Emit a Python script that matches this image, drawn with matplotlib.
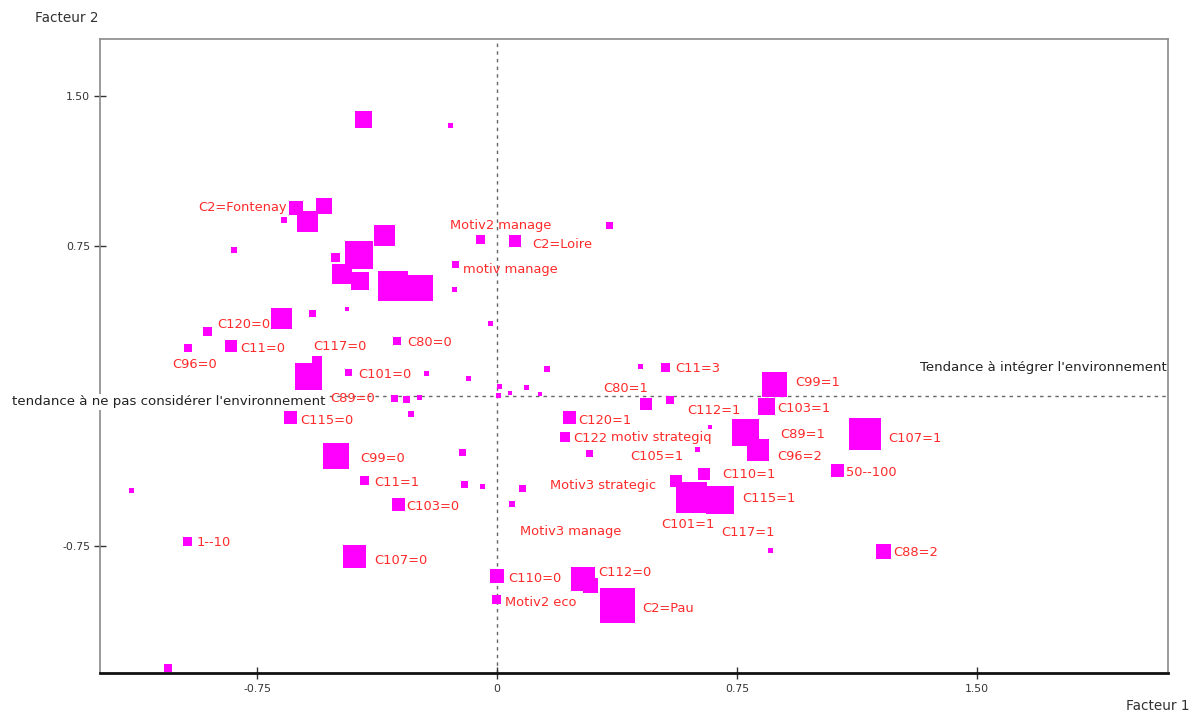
import matplotlib
matplotlib.use('Agg')
import matplotlib.pyplot as plt
import matplotlib.transforms as mtransforms
import numpy as np

# ---------------- data ----------------
facteur1 = [-0.419, -0.144, -0.628, -0.594, -0.541, -0.666, -0.822, -0.353, -0.431, -0.506,
            -0.484, -0.428, -0.325, -0.241, -0.053, -0.131, -0.134, 0.056, 0.350, -0.022,
            0.528, 0.447, 0.156, -0.088, 0.091, 0.009, 0.041, 0.134, 0.003, -0.675,
            -0.906, -0.578, -0.469, -0.831, -0.966, -0.588, -0.563, -0.313, -0.463, -0.219,
            -0.319, -0.284, -0.241, -0.269, -0.647, -0.503, -0.109, -0.413, -0.103, -0.044,
            -1.141, -0.309, -0.966, -0.447, -1.028, 0.466, 0.541, 0.866, 0.841, 0.666,
            0.225, 0.213, 0.628, 0.288, 0.778, 0.816, 1.150, 1.063, 0.647, 0.559,
            0.609, 0.697, 0.856, 0.081, 0.047, 0.000, -0.003, 0.269, 0.291, 0.375,
            1.209]
facteur2 = [1.385, 1.355, 0.940, 0.875, 0.950, 0.880, 0.730, 0.805, 0.705, 0.695,
            0.610, 0.575, 0.550, 0.540, 0.785, 0.660, 0.535, 0.775, 0.855, 0.365,
            0.145, 0.150, 0.135, 0.090, 0.045, 0.050, 0.015, 0.010, 0.005, 0.390,
            0.325, 0.415, 0.435, 0.250, 0.240, 0.100, 0.175, 0.275, 0.120, 0.115,
            -0.010, -0.015, -0.005, -0.090, -0.105, -0.300, -0.280, -0.420, -0.440, -0.450,
            -0.470, -0.540, -0.725, -0.800, -1.360, -0.040, -0.020, 0.060, -0.050, -0.155,
            -0.105, -0.205, -0.265, -0.285, -0.180, -0.270, -0.190, -0.370, -0.390, -0.425,
            -0.505, -0.520, -0.770, -0.460, -0.540, -0.900, -1.015, -0.915, -0.945, -1.045,
            -0.775]
poids = [17, 5, 14, 21, 16, 6, 6, 21, 28, 9,
         20, 18, 30, 26, 9, 7, 5, 12, 7, 5,
         9, 5, 6, 5, 5, 5, 4, 4, 5, 21,
         9, 7, 4, 12, 8, 27, 10, 8, 7, 5,
         7, 7, 5, 6, 13, 26, 7, 9, 7, 5,
         5, 13, 9, 23, 8, 12, 8, 25, 17, 4,
         13, 10, 5, 7, 27, 22, 32, 13, 12, 12,
         31, 28, 5, 7, 6, 14, 9, 24, 15, 35,
         15]
modalites = ['', '', 'C2=Fontenay', '', '', '', '', '', '', '',
             '', '', '', '', 'Motiv2 manage', 'motiv manage', '', 'C2=Loire', '', '',
             'C11=3', '', '', '', '', '', '', '', '', '',
             'C120=0', '', '', 'C11=0', 'C96=0', 'C117=0', '', 'C80=0', 'C101=0', '',
             'C89=0', '', '', '', 'C115=0', 'C99=0', '', 'C11=1', '', '',
             '', 'C103=0', '1--10', 'C107=0', '', 'C80=1', '', 'C99=1', 'C103=1', 'C112=1',
             'C120=1', 'C122', 'motiv strategiq', 'C105=1', 'C89=1', 'C96=2', 'C107=1', '50--100', 'C110=1', '',
             'C101=1', 'C115=1', 'C117=1', 'Motiv3 strategic', 'Motiv3 manage', 'C110=0', 'Motiv2 eco', 'C112=0', '', 'C2=Pau',
             'C88=2']

# label placement (pixel offsets from the square, alignment)
decalages = {
    'C2=Fontenay': (-9, -1, 'right'), 'Motiv2 manage': (-30, -14, 'left'),
    'motiv manage': (8, 5, 'left'), 'C2=Loire': (17, 3, 'left'), 'C11=3': (9, 1, 'left'),
    'C120=0': (10, -6, 'left'), 'C11=0': (9, 3, 'left'), 'C96=0': (-16, 17, 'left'),
    'C117=0': (4, -29, 'left'), 'C80=0': (10, 1, 'left'), 'C101=0': (9, 3, 'left'),
    'C89=0': (-20, 0, 'right'), 'C115=0': (10, 3, 'left'), 'C99=0': (24, 3, 'left'),
    'C11=1': (9, 2, 'left'), 'C103=0': (8, 3, 'left'), '1--10': (9, 2, 'left'),
    'C107=0': (20, 5, 'left'), 'C80=1': (2, -16, 'right'), 'C99=1': (21, -2, 'left'),
    'C103=1': (11, 3, 'left'), 'C112=1': (4, -17, 'center'), 'C120=1': (9, 3, 'left'),
    'C122': (8, 1, 'left'), 'motiv strategiq': (14, -12, 'right'), 'C105=1': (41, 3, 'left'),
    'C89=1': (34, 3, 'left'), 'C96=2': (19, 6, 'left'), 'C107=1': (23, 4, 'left'),
    '50--100': (9, 2, 'left'), 'C110=1': (18, 1, 'left'), 'C101=1': (-31, 28, 'left'),
    'C115=1': (22, -2, 'left'), 'C117=1': (-50, -17, 'left'), 'Motiv3 strategic': (27, -3, 'left'),
    'Motiv3 manage': (8, 28, 'left'), 'C110=0': (11, 3, 'left'), 'Motiv2 eco': (9, 4, 'left'),
    'C112=0': (15, -7, 'left'), 'C2=Pau': (25, 3, 'left'), 'C88=2': (9, 2, 'left'),
}

xticks = [-0.75, 0, 0.75, 1.50]
xticklabels = ['-0.75', '0', '0.75', '1.50']
yticks = [-0.75, 0.75, 1.50]
yticklabels = ['-0.75', '0.75', '1.50']

# ---------------- figure ----------------
DPI = 100
fig = plt.figure(figsize=(11.93, 7.13), dpi=DPI)
fig.patch.set_facecolor('white')
ax = fig.add_axes([100 / 1193, 1 - 673 / 713, (1168 - 100) / 1193, (673 - 39) / 713])
ax.set_xlim(-1.241, 2.097)
ax.set_ylim(-1.385, 1.785)

px2pt = 72.0 / DPI
sizes = [(p * px2pt) ** 2 for p in poids]
ax.scatter(facteur1, facteur2, s=sizes, marker='s', c='#ff00ff', linewidths=0, zorder=3)

ax.axvline(0, color='#666666', lw=1.0, ls=(0, (2.5, 3)), zorder=1)
ax.axhline(0, color='#666666', lw=1.0, ls=(0, (2.5, 3)), zorder=1)

for x, y, lab in zip(facteur1, facteur2, modalites):
    if not lab:
        continue
    dx, dy, ha = decalages[lab]
    ax.annotate(lab, (x, y), xytext=(dx * px2pt, -dy * px2pt), textcoords='offset points',
                ha=ha, va='center', color='#ff2a2a', fontsize=9.4, family='DejaVu Sans', zorder=4)

# axis direction labels
ax.text(-0.5375, -0.03, "tendance à ne pas considérer l'environnement", ha='right', va='center',
        fontsize=9.6, color='#222222', clip_on=False, zorder=5,
        bbox=dict(facecolor='white', edgecolor='none', pad=1))
trans = mtransforms.blended_transform_factory(ax.transAxes, ax.transData)
ax.text(0.999, 0.145, "Tendance à intégrer l'environnement", ha='right', va='center',
        fontsize=9.5, color='#222222', transform=trans, zorder=5)

# spines & ticks
for side in ['top', 'right', 'left']:
    ax.spines[side].set_color('#8a8a8a')
    ax.spines[side].set_linewidth(1.2)
ax.spines['bottom'].set_color('#111111')
ax.spines['bottom'].set_linewidth(2.0)
ax.set_xticks(xticks)
ax.set_xticklabels(xticklabels)
ax.set_yticks(yticks)
ax.set_yticklabels(yticklabels)
ax.tick_params(axis='both', direction='inout', length=8, width=1, colors='#333333',
               labelsize=7.8)
ax.tick_params(axis='x', pad=4)
ax.tick_params(axis='y', pad=3)

fig.text(35 / 1193, 1 - 18 / 713, 'Facteur 2', ha='left', va='center', fontsize=9.8, color='#333333')
fig.text(1190 / 1193, 1 - 706 / 713, 'Facteur 1', ha='right', va='center', fontsize=9.8, color='#333333')

fig.savefig('out.png', dpi=DPI)
